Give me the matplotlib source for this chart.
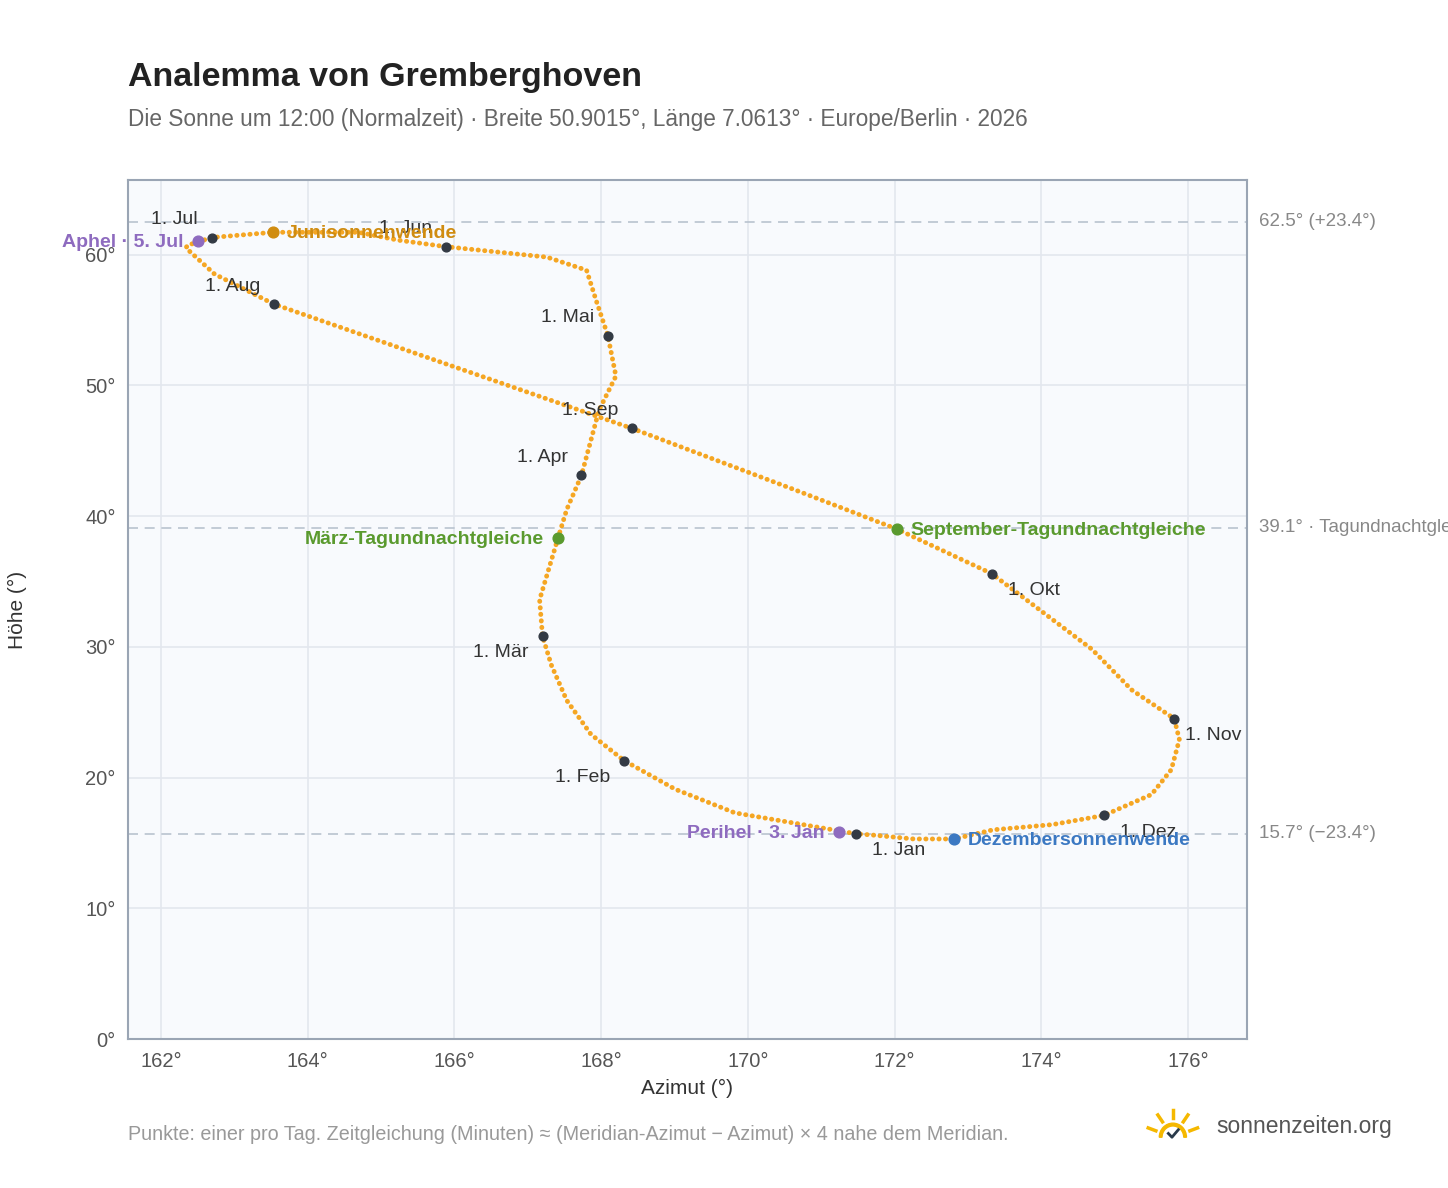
import matplotlib.pyplot as plt
import numpy as np
from matplotlib.patches import Wedge

plt.rcParams['font.family'] = ['Liberation Sans', 'DejaVu Sans']

# Sonnenstand um 12:00 über das Jahr (in Datumsfolge)
azimut = [171.47, 169.82, 169.01, 168.31, 167.86, 167.53, 167.32, 167.20, 167.16,
          167.41, 167.53, 167.73, 167.97, 168.20, 168.09, 167.93, 167.80, 167.26,
          165.88, 165.23, 164.69, 163.53, 162.69, 162.36, 162.34, 162.73, 163.54,
          165.90, 168.42, 170.64, 172.03, 173.32, 174.69, 175.23, 175.81, 175.88,
          175.77, 175.50, 174.85, 174.15, 173.34, 172.81, 172.26, 171.70]
hoehe = [15.7, 17.3, 19.1, 21.3, 23.3, 25.9, 28.6, 30.8, 33.6,
         38.3, 40.5, 43.1, 48.1, 50.7, 53.8, 56.5, 58.8, 59.8,
         60.6, 61.1, 61.7, 61.7, 61.3, 60.7, 60.5, 58.5, 56.2,
         51.6, 46.7, 42.0, 39.0, 35.6, 29.8, 26.7, 24.5, 22.9,
         20.6, 18.7, 17.1, 16.4, 16.0, 15.3, 15.3, 15.6]

monate = ['1. Jan', '1. Feb', '1. Mär', '1. Apr', '1. Mai', '1. Jun',
          '1. Jul', '1. Aug', '1. Sep', '1. Okt', '1. Nov', '1. Dez']
monat_az = [171.47, 168.31, 167.20, 167.73, 168.09, 165.88, 162.69, 163.54, 168.42, 173.32, 175.81, 174.85]
monat_h = [15.7, 21.3, 30.8, 43.1, 53.8, 60.6, 61.3, 56.2, 46.7, 35.6, 24.5, 17.1]
monat_off = [(12, -12, 'left'), (-10, -12, 'right'), (-10, -12, 'right'), (-10, 13, 'right'),
             (-10, 13, 'right'), (-10, 13, 'right'), (-10, 13, 'right'), (-10, 13, 'right'),
             (-10, 13, 'right'), (12, -12, 'left'), (8, -12, 'left'), (12, -12, 'left')]

events = [('Perihel · 3. Jan', 171.24, 15.8, '#8e6bbf', 'right'),
          ('Dezembersonnenwende', 172.81, 15.3, '#3b78c2', 'left'),
          ('Junisonnenwende', 163.53, 61.7, '#d08c10', 'left'),
          ('Aphel · 5. Jul', 162.50, 61.0, '#8e6bbf', 'right'),
          ('März-Tagundnachtgleiche', 167.41, 38.3, '#5a9a2e', 'right'),
          ('September-Tagundnachtgleiche', 172.03, 39.0, '#5a9a2e', 'left')]

ref_h = [62.5, 39.1, 15.7]
ref_lab = ['62.5° (+23.4°)', '39.1° · Tagundnachtgleiche', '15.7° (−23.4°)']

fig = plt.figure(figsize=(14.48, 11.88), dpi=100)
ax = fig.add_axes([0.0884, 0.1254, 0.7727, 0.7231])
ax.set_facecolor('#f8fafd')
ax.set_xlim(161.55, 176.8)
ax.set_ylim(0, 65.7)
ax.grid(color='#e3e7ee', lw=1.2)
ax.set_axisbelow(True)
for s in ax.spines.values():
    s.set_color('#9aa5b4')
    s.set_linewidth(1.5)
ax.tick_params(length=0, labelsize=14.5, colors='#555', pad=9)
ax.set_xticks(range(162, 177, 2))
ax.set_xticklabels([f'{v}°' for v in range(162, 177, 2)])
ax.set_yticks(range(0, 61, 10))
ax.set_yticklabels([f'{v}°' for v in range(0, 61, 10)])
ax.set_xlabel('Azimut (°)', fontsize=15, color='#333', labelpad=6)
ax.set_ylabel('Höhe (°)', fontsize=15, color='#333', labelpad=42)

for h, lab in zip(ref_h, ref_lab):
    ax.axhline(h, color='#b9c3cf', ls=(0, (6, 4)), lw=1.2)
    ax.annotate(lab, (1, h), xycoords=('axes fraction', 'data'), xytext=(9, 0),
                textcoords='offset points', va='center', fontsize=13.5, color='#888',
                annotation_clip=False)

ax.plot(azimut + [azimut[0]], hoehe + [hoehe[0]], color='#f5a623', lw=3.5,
        ls=(0, (0.05, 1.3)), dash_capstyle='round', zorder=3)

ax.scatter(monat_az, monat_h, s=40, color='#333a44', zorder=4)
for lab, x, y, (dx, dy, ha) in zip(monate, monat_az, monat_h, monat_off):
    ax.annotate(lab, (x, y), xytext=(dx, dy), textcoords='offset points', fontsize=14,
                color='#333', va='center', ha=ha)

for lab, x, y, c, ha in events:
    ax.scatter([x], [y], s=60, color=c, zorder=5)
    dx = 10 if ha == 'left' else -10
    ax.annotate(lab, (x, y), xytext=(dx, -1), textcoords='offset points', ha=ha,
                va='center', fontsize=14, fontweight='bold', color=c, zorder=6)

fig.text(0.0884, 0.928, 'Analemma von Gremberghoven', fontsize=24.5, fontweight='bold', color='#222')
fig.text(0.0884, 0.894, 'Die Sonne um 12:00 (Normalzeit) · Breite 50.9015°, Länge 7.0613° · Europe/Berlin · 2026',
         fontsize=16.3, color='#666')
fig.text(0.0884, 0.040, 'Punkte: einer pro Tag. Zeitgleichung (Minuten) ≈ (Meridian-Azimut − Azimut) × 4 nahe dem Meridian.',
         fontsize=14.2, color='#999')
fig.text(0.84, 0.052, 'sonnenzeiten.org', fontsize=16.5, color='#555', va='center')

# kleines Sonnen-Logo
lax = fig.add_axes([0.79, 0.038, 0.04, 0.03])
lax.set_xlim(-1.6, 1.6); lax.set_ylim(-0.3, 1.6); lax.axis('off')
lax.add_patch(Wedge((0, 0), 0.75, 0, 180, width=0.15, color='#f5b800'))
for a in np.radians([20, 55, 90, 125, 160]):
    lax.plot([1.0 * np.cos(a), 1.45 * np.cos(a)], [1.0 * np.sin(a), 1.45 * np.sin(a)], color='#f5b800', lw=2.5)
lax.plot([-0.25, -0.05, 0.3], [0.2, 0.0, 0.4], color='#2a3a4a', lw=2)

fig.savefig('out.png', dpi=100)
